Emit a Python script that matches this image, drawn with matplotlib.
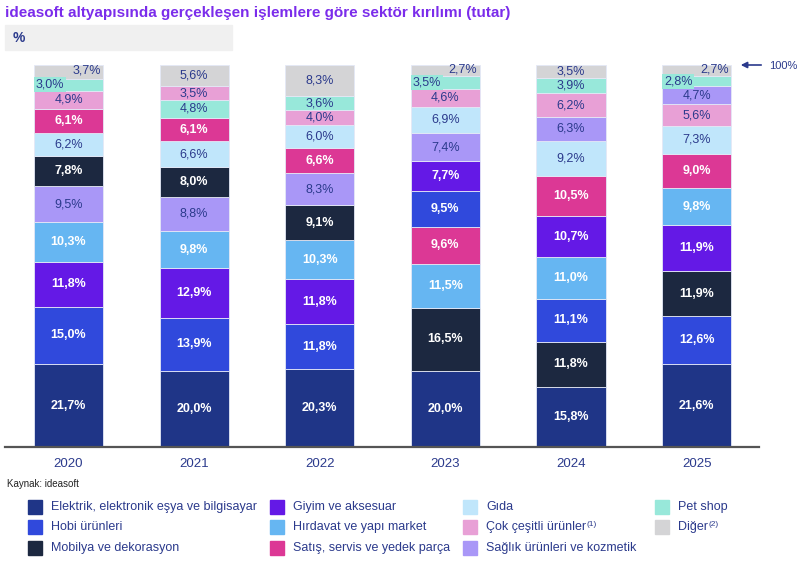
import numpy as np
import matplotlib.pyplot as plt
from matplotlib.patches import Rectangle

plt.rcParams['font.family'] = ['Liberation Sans', 'DejaVu Sans']

years = ['2020', '2021', '2022', '2023', '2024', '2025']
categories = [
    'Elektrik, elektronik eşya ve bilgisayar',
    'Hobi ürünleri',
    'Mobilya ve dekorasyon',
    'Giyim ve aksesuar',
    'Hırdavat ve yapı market',
    'Satış, servis ve yedek parça',
    'Gıda',
    'Çok çeşitli ürünler',
    'Sağlık ürünleri ve kozmetik',
    'Pet shop',
    'Diğer',
]
footnotes = ['', '', '', '', '', '', '', '(1)', '', '', '(2)']
elektrik = [21.7, 20.0, 20.3, 20.0, 15.8, 21.6]
hobi = [15.0, 13.9, 11.8, 9.5, 11.1, 12.6]
mobilya = [7.8, 8.0, 9.1, 16.5, 11.8, 11.9]
giyim = [11.8, 12.9, 11.8, 7.7, 10.7, 11.9]
hirdavat = [10.3, 9.8, 10.3, 11.5, 11.0, 9.8]
satis = [6.1, 6.1, 6.6, 9.6, 10.5, 9.0]
gida = [6.2, 6.6, 6.0, 6.9, 9.2, 7.3]
cok_cesitli = [4.9, 3.5, 4.0, 4.6, 6.2, 5.6]
saglik = [9.5, 8.8, 8.3, 7.4, 6.3, 4.7]
pet_shop = [3.0, 4.8, 3.6, 3.5, 3.9, 2.8]
diger = [3.7, 5.6, 8.3, 2.7, 3.5, 2.7]

colors = ['#1f3587', '#3049dc', '#1c2840', '#6419e6', '#66b6f2', '#dc3895',
          '#c0e6fb', '#e8a0d6', '#a997f7', '#98e8da', '#d4d4d6']
white_text = [True, True, True, True, True, True, False, False, False, False, False]
NAVY = '#2b3a8c'

values = np.array([elektrik, hobi, mobilya, giyim, hirdavat, satis, gida,
                   cok_cesitli, saglik, pet_shop, diger])

fig = plt.figure(figsize=(8, 5.71), dpi=100)
W, H = 800, 571
ax = fig.add_axes([5 / W, 124 / H, 754 / W, 382 / H])

width = 0.55
x = np.arange(len(years))
for j in range(len(years)):
    col = values[:-1, j]
    # largest at the bottom, "Diğer" always on top
    order = list(np.argsort(-col, kind='stable')) + [len(categories) - 1]
    bottom = 0
    small_top = values[9, j] + values[10, j] < 7
    for i in order:
        v = values[i, j]
        ax.bar(x[j], v, width, bottom=bottom, color=colors[i],
               edgecolor='#e4e8f6', linewidth=0.6)
        tc = 'white' if white_text[i] else NAVY
        lbl = f'{v:.1f}'.replace('.', ',') + '%'
        yc = bottom + v / 2
        if small_top and i == 10:
            ax.text(x[j] + 0.255, yc + 0.3, lbl, ha='right', va='center',
                    color=tc, fontsize=9)
        elif small_top and i == 9:
            ax.text(x[j] - 0.26, yc, lbl, ha='left', va='center', color=tc,
                    fontsize=9, bbox=dict(boxstyle='square,pad=0.12',
                                          fc=colors[i], ec='none'))
        else:
            ax.text(x[j], yc, lbl, ha='center', va='center', color=tc,
                    fontsize=9, fontweight='bold' if white_text[i] else 'normal')
        bottom += v

ax.set_xlim(-0.506, 5.497)
ax.set_ylim(0, 100)
ax.set_xticks(x)
ax.set_xticklabels(years, color=NAVY, fontsize=9.5)
ax.tick_params(axis='x', length=0, pad=8)
ax.set_yticks([])
for s in ['top', 'left', 'right']:
    ax.spines[s].set_visible(False)
ax.spines['bottom'].set_color('#555555')
ax.spines['bottom'].set_linewidth(1.6)

# title and unit band
fig.text(5 / W, 1 - 13 / H, 'ideasoft altyapısında gerçekleşen işlemlere göre sektör kırılımı (tutar)',
         color='#7b2ceb', fontsize=11, fontweight='bold', va='center')
fig.patches.append(Rectangle((5 / W, 1 - 50 / H), 227 / W, 25 / H,
                             transform=fig.transFigure, color='#f0f0f0', zorder=0))
fig.text(13 / W, 1 - 38 / H, '%', color=NAVY, fontsize=10, fontweight='bold', va='center')

# 100% marker
ax.annotate('', xy=(738 / W, 1 - 65 / H), xytext=(764 / W, 1 - 65 / H),
            xycoords='figure fraction', textcoords='figure fraction',
            arrowprops=dict(arrowstyle='-|>', color=NAVY, lw=1.2, mutation_scale=9))
fig.text(769 / W, 1 - 66 / H, '100%', color=NAVY, fontsize=8, va='center')

fig.text(7 / W, 1 - 484 / H, 'Kaynak: ideasoft', color='#222222', fontsize=7, va='center')

# legend
col_x = [28, 270, 463, 655]
row_y = [507, 527, 548]
renderer = fig.canvas.get_renderer()
for k, name in enumerate(categories):
    c, r = k // 3, k % 3
    fig.patches.append(Rectangle((col_x[c] / W, 1 - (row_y[r] + 7) / H), 14 / W, 14 / H,
                                 transform=fig.transFigure, color=colors[k]))
    t = fig.text((col_x[c] + 23) / W, 1 - row_y[r] / H, name, color=NAVY,
                 fontsize=9, va='center')
    if footnotes[k]:
        bb = t.get_window_extent(renderer)
        fig.text(bb.x1 / W + 0.001, 1 - (row_y[r] - 3) / H, footnotes[k],
                 color=NAVY, fontsize=6, va='center')

fig.savefig('out.png', dpi=100)
